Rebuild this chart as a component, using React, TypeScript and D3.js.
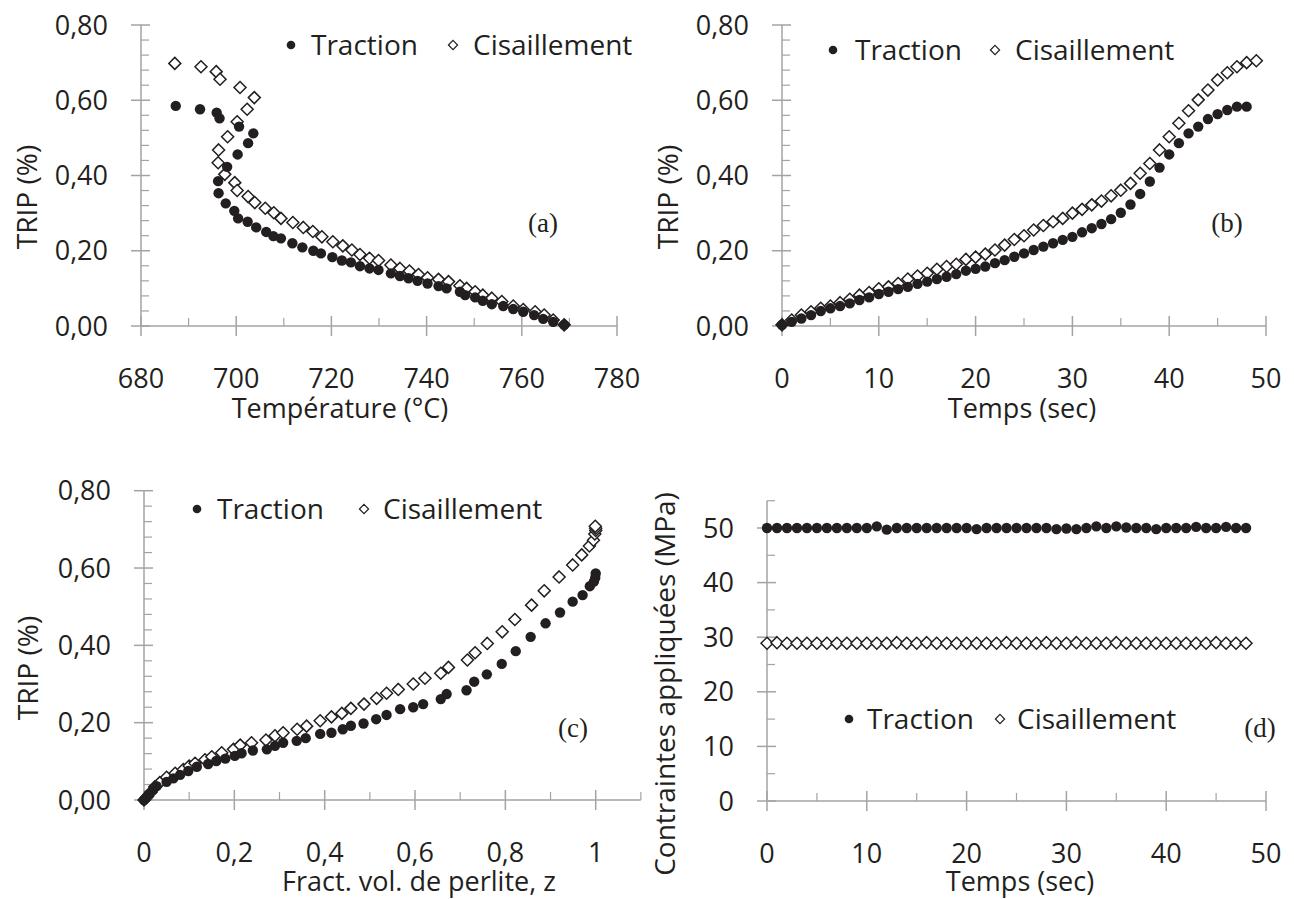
import React from "react";
import * as d3 from "d3";

// ---------- DATA ----------
// (a) TRIP (%) vs Température (°C)
const tempTractionA = [687.3, 692.4, 695.9, 696.5, 700.6, 703.6, 702.5, 700.3, 698.1, 696.2, 696.3, 697.8, 699.6, 700.4, 702.4, 704.2, 706.3, 707.8, 709.4, 711.8, 713.9, 716.2, 717.8, 720.2, 722.2, 724.1, 726.0, 728.0, 729.9, 732.5, 734.4, 736.2, 738.1, 740.2, 742.5, 744.2, 747.0, 748.1, 750.2, 751.8, 753.7, 756.1, 758.2, 760.3, 762.6, 764.5, 766.6, 768.9];
const tripTractionA = [0.585, 0.576, 0.567, 0.552, 0.530, 0.512, 0.486, 0.456, 0.423, 0.385, 0.353, 0.326, 0.306, 0.286, 0.277, 0.262, 0.250, 0.239, 0.233, 0.220, 0.209, 0.200, 0.193, 0.183, 0.174, 0.169, 0.159, 0.153, 0.149, 0.140, 0.133, 0.127, 0.120, 0.113, 0.106, 0.100, 0.091, 0.082, 0.076, 0.067, 0.058, 0.053, 0.045, 0.038, 0.029, 0.019, 0.011, 0.003];
const tempCisA = [687.1, 692.6, 695.8, 696.6, 700.8, 703.8, 702.3, 700.2, 698.2, 696.3, 696.2, 697.6, 699.7, 700.2, 702.5, 703.9, 706.1, 707.9, 709.4, 711.9, 714.1, 716.1, 718.0, 720.3, 722.4, 724.3, 726.0, 728.0, 729.9, 732.5, 734.4, 736.4, 738.3, 740.2, 742.5, 744.6, 747.0, 748.4, 750.2, 751.8, 753.7, 755.8, 758.2, 760.3, 762.8, 764.7, 766.6, 768.9];
const tripCisA = [0.698, 0.689, 0.676, 0.656, 0.634, 0.607, 0.576, 0.543, 0.503, 0.468, 0.434, 0.403, 0.381, 0.360, 0.344, 0.328, 0.313, 0.301, 0.286, 0.275, 0.262, 0.251, 0.237, 0.224, 0.213, 0.202, 0.190, 0.180, 0.174, 0.162, 0.153, 0.146, 0.137, 0.128, 0.124, 0.118, 0.107, 0.100, 0.091, 0.082, 0.074, 0.065, 0.053, 0.044, 0.038, 0.029, 0.016, 0.003];

// (b) TRIP (%) vs Temps (sec)
const timeTractionB = [0, 1, 2, 3, 4, 5, 6, 7, 8, 9, 10, 11, 12, 13, 14, 15, 16, 17, 18, 19, 20, 21, 22, 23, 24, 25, 26, 27, 28, 29, 30, 31, 32, 33, 34, 35, 36, 37, 38, 39, 40, 41, 42, 43, 44, 45, 46, 47, 48];
const tripTractionB = [0.003, 0.011, 0.020, 0.029, 0.040, 0.047, 0.053, 0.060, 0.069, 0.076, 0.085, 0.091, 0.098, 0.104, 0.112, 0.118, 0.125, 0.131, 0.138, 0.147, 0.152, 0.158, 0.167, 0.175, 0.184, 0.193, 0.202, 0.211, 0.220, 0.229, 0.237, 0.249, 0.260, 0.271, 0.284, 0.301, 0.323, 0.351, 0.384, 0.421, 0.456, 0.486, 0.512, 0.530, 0.550, 0.563, 0.574, 0.583, 0.583];
const timeCisB = [0, 1, 2, 3, 4, 5, 6, 7, 8, 9, 10, 11, 12, 13, 14, 15, 16, 17, 18, 19, 20, 21, 22, 23, 24, 25, 26, 27, 28, 29, 30, 31, 32, 33, 34, 35, 36, 37, 38, 39, 40, 41, 42, 43, 44, 45, 46, 47, 48, 49];
const tripCisB = [0.003, 0.016, 0.029, 0.038, 0.047, 0.053, 0.062, 0.071, 0.082, 0.089, 0.099, 0.104, 0.113, 0.125, 0.133, 0.140, 0.151, 0.158, 0.164, 0.177, 0.183, 0.191, 0.202, 0.215, 0.230, 0.240, 0.255, 0.267, 0.277, 0.286, 0.300, 0.310, 0.322, 0.332, 0.346, 0.361, 0.379, 0.406, 0.432, 0.468, 0.503, 0.539, 0.572, 0.601, 0.627, 0.654, 0.673, 0.689, 0.700, 0.705];

// (c) TRIP (%) vs Fract. vol. de perlite, z
const zTractionC = [0, 0.005, 0.01, 0.02, 0.028, 0.05, 0.065, 0.08, 0.098, 0.117, 0.142, 0.16, 0.18, 0.201, 0.216, 0.241, 0.272, 0.29, 0.308, 0.338, 0.358, 0.39, 0.415, 0.44, 0.458, 0.486, 0.514, 0.537, 0.567, 0.596, 0.618, 0.657, 0.67, 0.714, 0.731, 0.759, 0.792, 0.823, 0.856, 0.889, 0.921, 0.949, 0.971, 0.987, 0.996, 0.999, 1.0];
const tripTractionC = [0, 0.006, 0.013, 0.026, 0.036, 0.047, 0.056, 0.065, 0.075, 0.086, 0.093, 0.101, 0.107, 0.114, 0.121, 0.128, 0.131, 0.14, 0.148, 0.153, 0.16, 0.171, 0.174, 0.183, 0.192, 0.198, 0.209, 0.22, 0.235, 0.24, 0.248, 0.261, 0.274, 0.284, 0.306, 0.325, 0.352, 0.385, 0.422, 0.457, 0.485, 0.513, 0.53, 0.553, 0.565, 0.575, 0.586];
const zCisC = [0, 0.008, 0.015, 0.024, 0.035, 0.05, 0.069, 0.087, 0.1, 0.113, 0.135, 0.15, 0.172, 0.198, 0.213, 0.238, 0.27, 0.29, 0.308, 0.339, 0.36, 0.39, 0.415, 0.438, 0.458, 0.487, 0.515, 0.537, 0.563, 0.596, 0.622, 0.657, 0.674, 0.716, 0.733, 0.76, 0.793, 0.821, 0.858, 0.886, 0.919, 0.949, 0.969, 0.986, 0.995, 0.998, 1.0, 1.0, 0.999];
const tripCisC = [0, 0.01, 0.02, 0.034, 0.045, 0.059, 0.069, 0.079, 0.088, 0.095, 0.104, 0.112, 0.122, 0.131, 0.142, 0.148, 0.155, 0.166, 0.174, 0.183, 0.191, 0.205, 0.215, 0.224, 0.237, 0.248, 0.263, 0.276, 0.286, 0.3, 0.315, 0.328, 0.343, 0.362, 0.381, 0.405, 0.435, 0.467, 0.504, 0.541, 0.577, 0.608, 0.634, 0.657, 0.672, 0.688, 0.697, 0.703, 0.708];

// (d) Contraintes appliquées (MPa) vs Temps (sec)
const timeD = [0, 1, 2, 3, 4, 5, 6, 7, 8, 9, 10, 11, 12, 13, 14, 15, 16, 17, 18, 19, 20, 21, 22, 23, 24, 25, 26, 27, 28, 29, 30, 31, 32, 33, 34, 35, 36, 37, 38, 39, 40, 41, 42, 43, 44, 45, 46, 47, 48];
const stressTractionD = [50, 50, 50, 50, 50, 50, 50, 50, 50, 50, 50, 50.3, 49.7, 50, 50, 50, 50, 50, 50, 50, 50, 49.8, 50, 50, 50, 50, 50, 50, 50, 49.8, 49.9, 49.8, 50, 50.3, 50, 50.3, 50.1, 50, 50, 49.8, 50, 50, 50, 50.2, 50, 50, 50.2, 50, 50];
const stressCisD = [28.9, 29.0, 28.9, 28.9, 28.9, 28.9, 28.9, 28.9, 28.9, 28.9, 28.9, 28.9, 28.9, 29.0, 28.9, 28.9, 29.0, 28.9, 28.9, 28.9, 28.9, 28.9, 28.9, 28.9, 29.0, 28.9, 28.9, 28.9, 29.0, 28.9, 28.9, 29.0, 28.9, 28.9, 28.9, 29.0, 28.9, 28.9, 28.9, 28.9, 28.9, 28.9, 28.9, 28.9, 28.9, 29.0, 28.9, 28.9, 28.9];

const seriesNames = ["Traction", "Cisaillement"];
const tripTicks = [0, 0.2, 0.4, 0.6, 0.8];
const tempTicks = [680, 700, 720, 740, 760, 780];
const timeTicks = [0, 10, 20, 30, 40, 50];
const zTicks = [0, 0.2, 0.4, 0.6, 0.8, 1];
const stressTicks = [0, 10, 20, 30, 40, 50];

// ---------- STYLE ----------
const FONT = "'Open Sans', 'DejaVu Sans', sans-serif";
const AXIS = "#a3a3a3";
const INK = "#231f20";

const fmtTrip = (v: number) => d3.format(".2f")(v).replace(".", ",");
const fmtPlain = (v: number) => String(+v.toFixed(2)).replace(".", ",");

type Pt = [number, number];
const zip = (a: number[], b: number[]): Pt[] => a.map((v, i) => [v, b[i]]);

interface PanelProps {
  x: d3.ScaleLinear<number, number>;
  y: d3.ScaleLinear<number, number>;
  xEnd: number;
  xMajor: number[];
  xMinor: number[];
  yMajor: number[];
  yMinor: number[];
  xFmt: (v: number) => string;
  yFmt: (v: number) => string;
  traction: Pt[];
  cis: Pt[];
  xTitle: string;
  xTitlePos: [number, number];
  yTitle: string;
  yTitlePos: [number, number];
  legend: { base: number; dot: number; t1: number; dia: number; t2: number };
  tag: string;
  tagPos: [number, number];
}

const Diamond = ({ cx, cy, r, sw }: { cx: number; cy: number; r: number; sw: number }) => (
  <path
    d={`M${cx},${cy - r}L${cx + r},${cy}L${cx},${cy + r}L${cx - r},${cy}Z`}
    fill="#fff"
    stroke={INK}
    strokeWidth={sw}
  />
);

function Panel(p: PanelProps) {
  const [x0] = p.x.range();
  const [y0, y1] = p.y.range();
  const axX = x0;
  const axY = y0;
  const xE = p.x(p.xEnd);
  return (
    <g>
      {/* axes */}
      <line x1={axX} x2={axX} y1={y0} y2={y1} stroke={AXIS} strokeWidth={1.5} />
      <line x1={axX} x2={xE} y1={axY} y2={axY} stroke={AXIS} strokeWidth={1.5} />
      {p.yMajor.map((v) => (
        <line key={"ym" + v} x1={axX - 10} x2={axX + 9} y1={p.y(v)} y2={p.y(v)} stroke={AXIS} strokeWidth={1.5} />
      ))}
      {p.yMinor.map((v) => (
        <line key={"yn" + v} x1={axX} x2={axX + 8} y1={p.y(v)} y2={p.y(v)} stroke={AXIS} strokeWidth={1.2} />
      ))}
      {p.xMajor.map((v) => (
        <line key={"xm" + v} x1={p.x(v)} x2={p.x(v)} y1={axY - 10} y2={axY + 10} stroke={AXIS} strokeWidth={1.5} />
      ))}
      {p.xMinor.map((v) => (
        <line key={"xn" + v} x1={p.x(v)} x2={p.x(v)} y1={axY - 8} y2={axY} stroke={AXIS} strokeWidth={1.2} />
      ))}
      {/* tick labels */}
      {p.yMajor.map((v) => (
        <text key={"yl" + v} x={axX - 33} y={p.y(v) + 9.5} textAnchor="end" fontSize={27} fill={INK} fontFamily={FONT}>
          {p.yFmt(v)}
        </text>
      ))}
      {p.xMajor.map((v) => (
        <text key={"xl" + v} x={p.x(v)} y={axY + 62} textAnchor="middle" fontSize={27} fill={INK} fontFamily={FONT}>
          {p.xFmt(v)}
        </text>
      ))}
      {/* titles */}
      <text x={p.xTitlePos[0]} y={p.xTitlePos[1]} textAnchor="middle" fontSize={27} fill={INK} fontFamily={FONT}>
        {p.xTitle}
      </text>
      <text
        transform={`translate(${p.yTitlePos[0]},${p.yTitlePos[1]}) rotate(-90)`}
        textAnchor="middle"
        dy="0.35em"
        fontSize={28}
        fill={INK}
        fontFamily={FONT}
      >
        {p.yTitle}
      </text>
      {/* data */}
      {p.cis.map(([a, b], i) => (
        <Diamond key={"c" + i} cx={p.x(a)} cy={p.y(b)} r={6} sw={1.5} />
      ))}
      {p.traction.map(([a, b], i) => (
        <circle key={"t" + i} cx={p.x(a)} cy={p.y(b)} r={5.2} fill={INK} />
      ))}
      {/* legend */}
      <circle cx={p.legend.dot} cy={p.legend.base - 10} r={4.3} fill={INK} />
      <text x={p.legend.t1} y={p.legend.base} fontSize={28} fill={INK} fontFamily={FONT}>
        {seriesNames[0]}
      </text>
      <Diamond cx={p.legend.dia} cy={p.legend.base - 10} r={4.6} sw={1.2} />
      <text x={p.legend.t2} y={p.legend.base} fontSize={28} fill={INK} fontFamily={FONT}>
        {seriesNames[1]}
      </text>
      {/* panel tag */}
      <text x={p.tagPos[0]} y={p.tagPos[1]} textAnchor="middle" fontSize={27} fill={INK} fontFamily="'Liberation Serif', 'Times New Roman', serif">
        {p.tag}
      </text>
    </g>
  );
}

const range = (a: number, b: number, s: number) => d3.range(a, b + s / 2, s).map((v) => +v.toFixed(4));
const minorOnly = (all: number[], major: number[]) => all.filter((v) => !major.some((m) => Math.abs(m - v) < 1e-6));

export default function App() {
  const yTrip1 = d3.scaleLinear().domain([0, 0.8]).range([326, 25]);
  const yTrip2 = d3.scaleLinear().domain([0, 0.8]).range([800, 490.7]);
  const xA = d3.scaleLinear().domain([680, 780]).range([141, 617]);
  const xB = d3.scaleLinear().domain([0, 50]).range([782, 1266]);
  const xC = d3.scaleLinear().domain([0, 1]).range([144, 595.7]);
  const xD = d3.scaleLinear().domain([0, 50]).range([767, 1266]);
  const yD = d3.scaleLinear().domain([0, 55]).range([801, 500.7]);

  const tripMinor = minorOnly(range(0, 0.8, 0.04), tripTicks);

  return (
    <svg width={1294} height={899} style={{ position: "absolute", left: 0, top: 0, background: "#fff" }}>
      <rect width={1294} height={899} fill="#fff" />
      <Panel
        x={xA}
        y={yTrip1}
        xEnd={780}
        xMajor={tempTicks}
        xMinor={minorOnly(range(680, 780, 10), tempTicks)}
        yMajor={tripTicks}
        yMinor={tripMinor}
        xFmt={(v) => String(v)}
        yFmt={fmtTrip}
        traction={zip(tempTractionA, tripTractionA)}
        cis={zip(tempCisA, tripCisA)}
        xTitle="Température (°C)"
        xTitlePos={[340, 418]}
        yTitle="TRIP (%)"
        yTitlePos={[27, 197]}
        legend={{ base: 55, dot: 291, t1: 311, dia: 453, t2: 473 }}
        tag="(a)"
        tagPos={[543, 232]}
      />
      <Panel
        x={xB}
        y={yTrip1}
        xEnd={50}
        xMajor={timeTicks}
        xMinor={minorOnly(range(0, 50, 5), timeTicks)}
        yMajor={tripTicks}
        yMinor={tripMinor}
        xFmt={(v) => String(v)}
        yFmt={fmtTrip}
        traction={zip(timeTractionB, tripTractionB)}
        cis={zip(timeCisB, tripCisB)}
        xTitle="Temps (sec)"
        xTitlePos={[1022, 418]}
        yTitle="TRIP (%)"
        yTitlePos={[668, 197]}
        legend={{ base: 60, dot: 833, t1: 855, dia: 995, t2: 1015 }}
        tag="(b)"
        tagPos={[1227, 232]}
      />
      <Panel
        x={xC}
        y={yTrip2}
        xEnd={1.1}
        xMajor={zTicks}
        xMinor={minorOnly(range(0, 1.1, 0.1), zTicks)}
        yMajor={tripTicks}
        yMinor={tripMinor}
        xFmt={fmtPlain}
        yFmt={fmtTrip}
        traction={zip(zTractionC, tripTractionC)}
        cis={zip(zCisC, tripCisC)}
        xTitle="Fract. vol. de perlite, z"
        xTitlePos={[419, 891]}
        yTitle="TRIP (%)"
        yTitlePos={[28, 668]}
        legend={{ base: 519, dot: 197, t1: 217, dia: 364, t2: 383 }}
        tag="(c)"
        tagPos={[573, 737]}
      />
      <Panel
        x={xD}
        y={yD}
        xEnd={50}
        xMajor={timeTicks}
        xMinor={minorOnly(range(0, 50, 5), timeTicks)}
        yMajor={stressTicks}
        yMinor={minorOnly(range(5, 55, 5), stressTicks)}
        xFmt={(v) => String(v)}
        yFmt={(v) => String(v)}
        traction={zip(timeD, stressTractionD)}
        cis={zip(timeD, stressCisD)}
        xTitle="Temps (sec)"
        xTitlePos={[1020, 891]}
        yTitle="Contraintes appliquées (MPa)"
        yTitlePos={[665, 684]}
        legend={{ base: 729, dot: 849, t1: 867, dia: 1000, t2: 1017 }}
        tag="(d)"
        tagPos={[1260, 737]}
      />
    </svg>
  );
}
